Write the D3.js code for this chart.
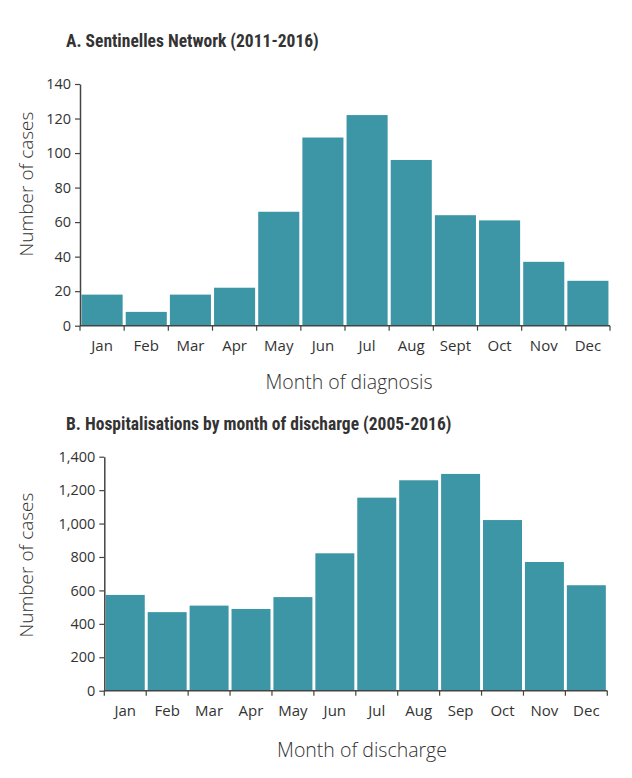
<!DOCTYPE html>
<html><head><meta charset="utf-8">
<script src="https://cdn.jsdelivr.net/npm/d3@7"></script>
<style>body{margin:0;background:#fff;} svg{display:block;}</style>
</head><body>
<script>
const monthsA = ["Jan","Feb","Mar","Apr","May","Jun","Jul","Aug","Sept","Oct","Nov","Dec"];
const valuesA = [18, 8, 18, 22, 66, 109, 122, 96, 64, 61, 37, 26];
const ticksA = [0, 20, 40, 60, 80, 100, 120, 140];

const monthsB = ["Jan","Feb","Mar","Apr","May","Jun","Jul","Aug","Sep","Oct","Nov","Dec"];
const valuesB = [573, 470, 509, 489, 560, 822, 1155, 1259, 1297, 1021, 770, 631];
const ticksB = [0, 200, 400, 600, 800, 1000, 1200, 1400];

const titleA = "A. Sentinelles Network (2011-2016)";
const titleB = "B. Hospitalisations by month of discharge (2005-2016)";

const barColor = "#3c96a5";
const textColor = "#333";
const fontMain = "'Open Sans', 'Noto Sans', sans-serif";
const fontTitle = "'Liberation Sans Narrow', 'Roboto Condensed', 'Open Sans', sans-serif";

const svg = d3.select("body").append("svg").attr("width", 632).attr("height", 778);

function panel(cfg) {
  const x = d3.scaleBand().domain(cfg.cats).range([cfg.x0, cfg.x1]).paddingInner(0.07).paddingOuter(0.035);
  const y = d3.scaleLinear().domain([0, cfg.ymax]).range([cfg.y0, cfg.y1]);

  svg.append("text").attr("x", 66).attr("y", cfg.titleY)
    .attr("font-family", fontTitle).attr("font-weight", "bold").attr("font-size", 17.5)
    .attr("fill", textColor).text(cfg.title);

  svg.append("g").selectAll("rect").data(cfg.vals).join("rect")
    .attr("x", (d, i) => x(cfg.cats[i]))
    .attr("width", x.bandwidth())
    .attr("y", d => y(d))
    .attr("height", d => y(0) - y(d))
    .attr("fill", barColor);

  const yAxis = d3.axisLeft(y).tickValues(cfg.ticks).tickSize(5).tickSizeOuter(0)
    .tickFormat(d3.format(cfg.fmt));
  const gy = svg.append("g").attr("transform", `translate(${cfg.x0},0)`).call(yAxis);
  gy.select(".domain").attr("stroke", "#444").attr("stroke-width", 1.5);
  gy.selectAll(".tick line").attr("stroke", "#444").attr("stroke-width", 1.2);
  gy.selectAll(".tick text").attr("font-family", fontMain).attr("font-size", 14.5)
    .attr("fill", textColor).attr("x", -9);

  // x axis with ticks at band boundaries
  const step = (cfg.x1 - cfg.x0) / cfg.cats.length;
  const gx = svg.append("g");
  gx.append("line").attr("x1", cfg.x0).attr("x2", cfg.x1).attr("y1", cfg.y0).attr("y2", cfg.y0)
    .attr("stroke", "#444").attr("stroke-width", 1.5);
  gx.selectAll("line.t").data(d3.range(cfg.cats.length + 1)).join("line").attr("class", "t")
    .attr("x1", i => cfg.x0 + i * step).attr("x2", i => cfg.x0 + i * step)
    .attr("y1", cfg.y0).attr("y2", cfg.y0 + 5).attr("stroke", "#444").attr("stroke-width", 1.2);
  gx.selectAll("text").data(cfg.cats).join("text")
    .attr("x", d => x(d) + x.bandwidth() / 2).attr("y", cfg.y0 + 25)
    .attr("text-anchor", "middle").attr("font-family", fontMain).attr("font-size", 15)
    .attr("fill", textColor).text(d => d);

  svg.append("text").attr("transform", `translate(33,${cfg.ylabY}) rotate(-90)`)
    .attr("text-anchor", "middle").attr("font-family", fontMain).attr("font-weight", 300)
    .attr("font-size", 19).attr("fill", textColor).text("Number of cases");

  svg.append("text").attr("x", cfg.xlabX).attr("y", cfg.xlabY)
    .attr("text-anchor", "middle").attr("font-family", fontMain).attr("font-weight", 300)
    .attr("font-size", 19.5).attr("fill", textColor).text(cfg.xlab);
}

panel({cats: monthsA, vals: valuesA, ticks: ticksA, ymax: 140, fmt: "d",
  x0: 80, x1: 610, y0: 325.7, y1: 84, title: titleA, titleY: 47,
  ylabY: 184, xlab: "Month of diagnosis", xlabX: 349, xlabY: 389});

panel({cats: monthsB, vals: valuesB, ticks: ticksB, ymax: 1400, fmt: ",",
  x0: 104.3, x1: 607.3, y0: 690.7, y1: 456.7, title: titleB, titleY: 430,
  ylabY: 565, xlab: "Month of discharge", xlabX: 362, xlabY: 757});
</script>
</body></html>
